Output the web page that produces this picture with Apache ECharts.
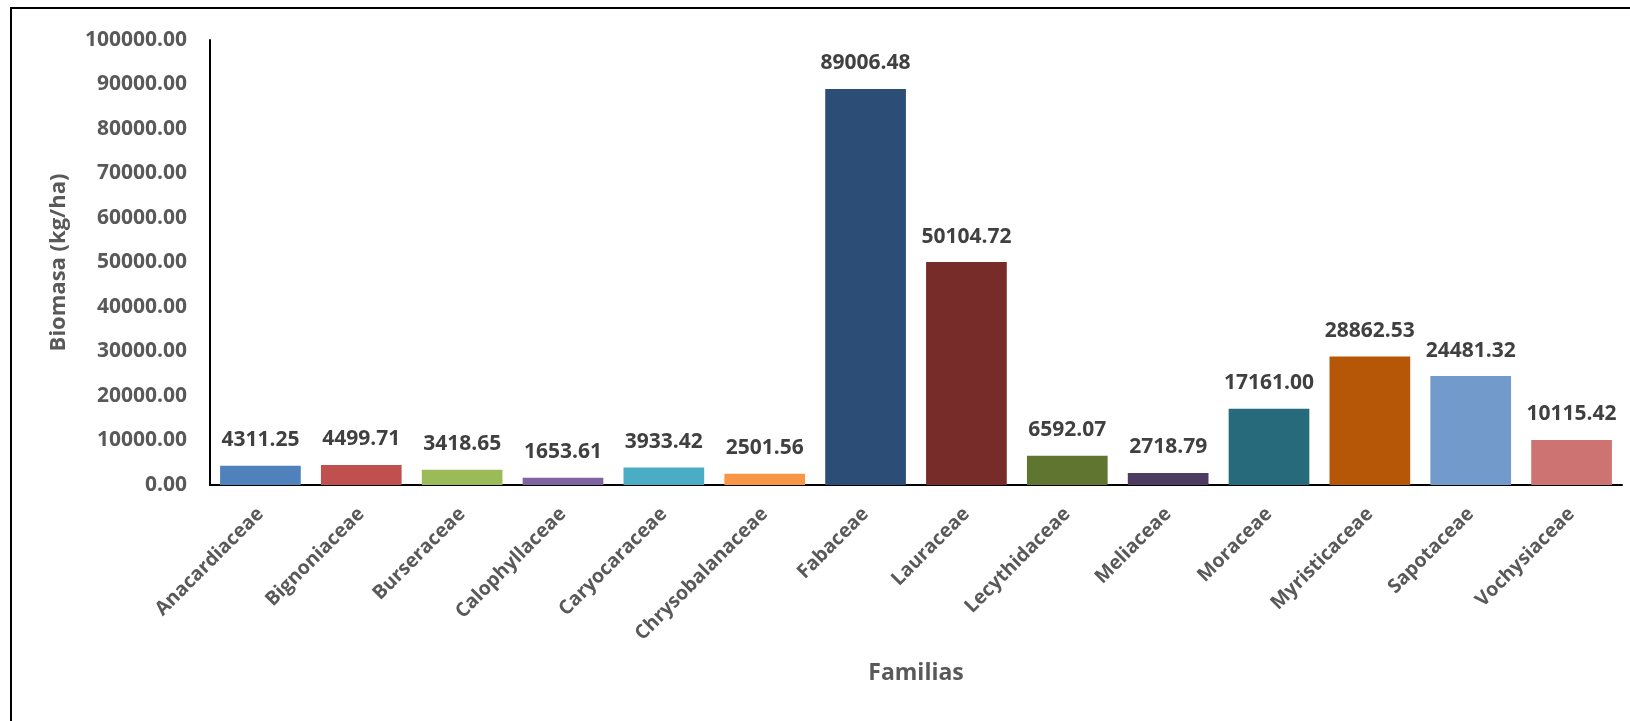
<!DOCTYPE html>
<html>
<head>
<meta charset="utf-8">
<title>Biomasa por familia</title>
<script src="https://cdn.jsdelivr.net/npm/echarts@6/dist/echarts.min.js"></script>
<style>
  html, body { margin: 0; padding: 0; background: #ffffff; }
  #chart { width: 1630px; height: 721px; }
</style>
</head>
<body>
<div id="chart"></div>
<script>
// Families (x categories) and their biomass in kg/ha
const familias = [
  'Anacardiaceae', 'Bignoniaceae', 'Burseraceae', 'Calophyllaceae',
  'Caryocaraceae', 'Chrysobalanaceae', 'Fabaceae', 'Lauraceae',
  'Lecythidaceae', 'Meliaceae', 'Moraceae', 'Myristicaceae',
  'Sapotaceae', 'Vochysiaceae'
];
const biomasa = [
  4311.25, 4499.71, 3418.65, 1653.61, 3933.42, 2501.56, 89006.48,
  50104.72, 6592.07, 2718.79, 17161.00, 28862.53, 24481.32, 10115.42
];
// Value axis range
const yMin = 0;
const yMax = 100000;
const yStep = 10000;

// One fill per family (Office palette and its darker shades)
const palette = [
  '#4F81BD', '#C0504D', '#9BBB59', '#8064A2', '#4BACC6', '#F79646',
  '#2C4D75', '#772C2A', '#5F7530', '#4D3B62', '#276A7C', '#B65708',
  '#729ACA', '#CD7371'
];

const FONT = '"Open Sans", "Noto Sans", sans-serif';
const chart = echarts.init(document.getElementById('chart'), null, { renderer: 'canvas' });

chart.setOption({
  animation: false,
  backgroundColor: '#ffffff',
  grid: { left: 210, right: 8, top: 40, bottom: 236, containLabel: false },
  xAxis: {
    type: 'category',
    data: familias,
    name: 'Familias',
    nameLocation: 'middle',
    nameGap: 177,
    nameTextStyle: { color: '#595959', fontFamily: FONT, fontWeight: 'bold', fontSize: 23 },
    axisLine: { show: true, lineStyle: { color: '#000000', width: 2 } },
    axisTick: { show: false },
    axisLabel: {
      interval: 0,
      rotate: 45,
      margin: 26,
      color: '#595959',
      fontFamily: FONT,
      fontWeight: 'bold',
      fontSize: 19.5
    },
    splitLine: { show: false }
  },
  yAxis: {
    type: 'value',
    min: yMin,
    max: yMax,
    interval: yStep,
    name: 'Biomasa (kg/ha)',
    nameLocation: 'middle',
    nameGap: 140,
    nameTextStyle: { color: '#595959', fontFamily: FONT, fontWeight: 'bold', fontSize: 22 },
    axisLine: { show: true, lineStyle: { color: '#000000', width: 2 } },
    axisTick: { show: false },
    splitLine: { show: false },
    axisLabel: {
      margin: 23,
      color: '#595959',
      fontFamily: FONT,
      fontWeight: 'bold',
      fontSize: 21
    ,
      formatter: v => v.toFixed(2)
    }
  },
  series: [{
    type: 'bar',
    data: biomasa.map((v, i) => ({ value: v, itemStyle: { color: palette[i] } })),
    barCategoryGap: '20%',
    label: {
      show: true,
      position: 'top',
      distance: 15,
      color: '#404040',
      fontFamily: FONT,
      fontWeight: 'bold',
      fontSize: 21,
      formatter: p => p.value.toFixed(2)
    }
  }],
  // Frame lines around the chart area (left and top edges)
  graphic: [{
    type: 'polyline',
    silent: true,
    shape: { points: [[11, 721], [11, 8], [1630, 8]] },
    style: { stroke: '#000000', lineWidth: 2, fill: null }
  }]
});
</script>
</body>
</html>
